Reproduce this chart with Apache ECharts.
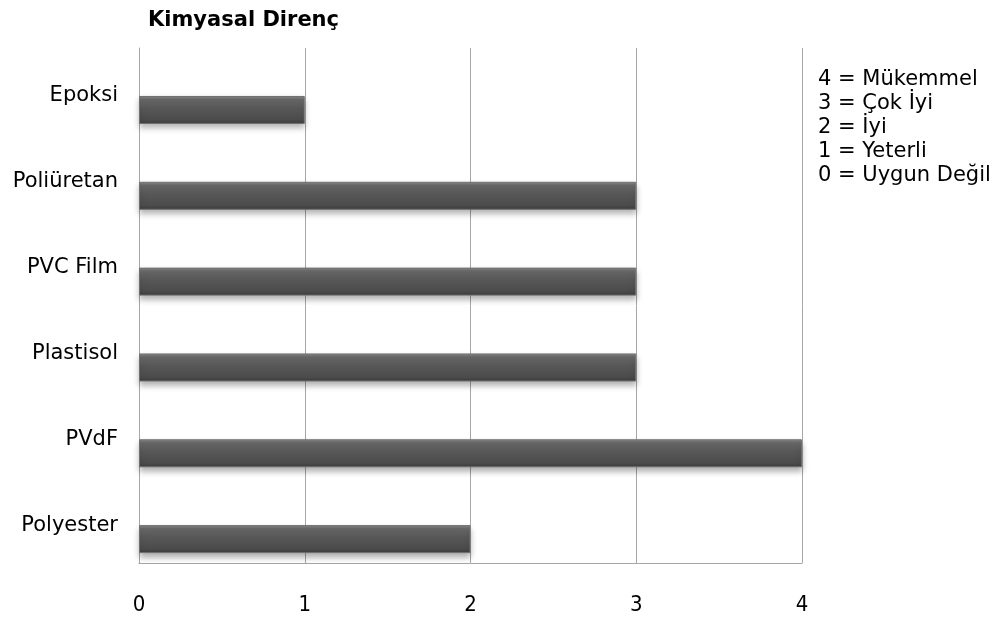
<!DOCTYPE html>
<html><head><meta charset="utf-8">
<script src="https://cdn.jsdelivr.net/npm/echarts@6/dist/echarts.min.js"></script>
<style>html,body{margin:0;padding:0;background:#fff}#c{width:1000px;height:626px}</style>
</head><body><div id="c"></div>
<script>
const categories = ['Polyester', 'PVdF', 'Plastisol', 'PVC Film', 'Poliüretan', 'Epoksi'];
const values = [2, 4, 3, 3, 3, 1];
const xTicks = [0, 1, 2, 3, 4];
const scaleNotes = ['4 = Mükemmel', '3 = Çok İyi', '2 = İyi', '1 = Yeterli', '0 = Uygun Değil'];
const chartTitle = 'Kimyasal Direnç';

const chart = echarts.init(document.getElementById('c'));
chart.setOption({
  animation: false,
  backgroundColor: '#fff',
  title: [{
    text: chartTitle, left: 143, top: 5,
    textStyle: {fontFamily: 'DejaVu Sans', fontWeight: 'bold', fontSize: 21, color: '#000'}
  }, {
    text: scaleNotes.join('\n'), left: 813, top: 63,
    textStyle: {fontFamily: 'DejaVu Sans', fontWeight: 'normal', fontSize: 21, color: '#000', lineHeight: 24}
  }],
  grid: {left: 139, right: 198, top: 48, bottom: 63, containLabel: false},
  xAxis: {
    type: 'value', min: xTicks[0], max: xTicks[xTicks.length - 1], interval: 1,
    axisLine: {show: true, lineStyle: {color: '#a6a6a6'}},
    axisTick: {show: false},
    splitLine: {show: true, lineStyle: {color: '#a6a6a6', width: 1}},
    axisLabel: {margin: 31, fontSize: 22, color: '#000', fontFamily: 'DejaVu Sans Condensed'}
  },
  yAxis: {
    type: 'category', data: categories,
    axisLine: {show: true, lineStyle: {color: '#a6a6a6'}},
    axisTick: {show: false},
    axisLabel: {margin: 21, fontSize: 21, color: '#000', fontFamily: 'DejaVu Sans', verticalAlign: 'top', lineHeight: 10}
  },
  series: [{
    type: 'bar', data: categories.map(() => null), barWidth: 28, barGap: '36%'
  }, {
    type: 'bar', data: values, barWidth: 28, barGap: '36%',
    itemStyle: {
      color: new echarts.graphic.LinearGradient(0, 0, 0, 1, [
        {offset: 0, color: '#8c8c8c'},
        {offset: 0.12, color: '#6a6a6a'},
        {offset: 0.45, color: '#575757'},
        {offset: 0.85, color: '#4b4b4b'},
        {offset: 1, color: '#3c3c3c'}
      ]),
      borderColor: '#6f6f6f', borderWidth: 1,
      shadowColor: 'rgba(0,0,0,0.3)', shadowBlur: 6, shadowOffsetY: 4
    }
  }]
});
</script></body></html>
